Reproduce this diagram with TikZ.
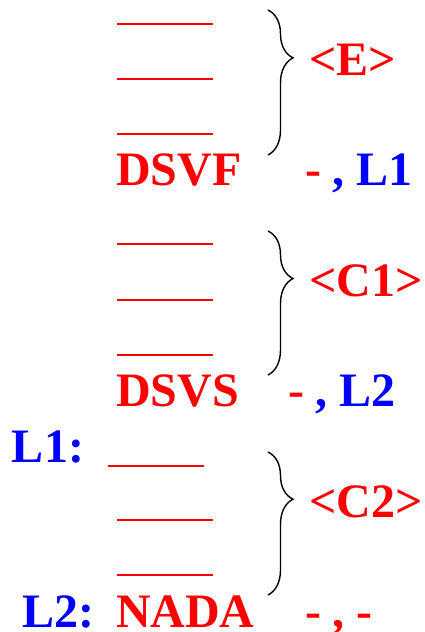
\documentclass[tikz,border=0pt]{standalone}
\usepackage{fontspec}
\setmainfont{Liberation Serif}
\usetikzlibrary{decorations.pathreplacing}
\begin{document}
\begin{tikzpicture}[x=1pt,y=-1pt,
  txt/.style={inner sep=0pt, outer sep=0pt, anchor=base west, font=\fontsize{48}{58}\selectfont\bfseries},
  rtxt/.style={txt, text=red},
  btxt/.style={txt, text=blue},
  blank/.style={red, line width=2.6pt},
  curly/.style={decorate, decoration={brace, amplitude=25pt, aspect=0.33}, line width=1.4pt}]
\useasboundingbox (0,0) rectangle (425,632);
% block 1
\draw[blank] (117,24) -- (213,24);
\draw[blank] (117,79) -- (213,79);
\draw[blank] (117,134) -- (213,134);
\node[rtxt] (dsvf) at (116,185) {DSVF};
\coordinate (b1t) at (268,10);
\coordinate (b1b) at (268,155);
\draw[curly] (b1t) -- (b1b);
\node[rtxt] (e) at (309,75) {<E>};
\node[txt] (r1) at (305,185) {\textcolor{red}{-} \textcolor{blue}{, L1}};
% block 2
\draw[blank] (117,244) -- (213,244);
\draw[blank] (117,300) -- (213,300);
\draw[blank] (117,355) -- (213,355);
\node[rtxt] (dsvs) at (116,406) {DSVS};
\coordinate (b2t) at (268,231);
\coordinate (b2b) at (268,375);
\draw[curly] (b2t) -- (b2b);
\node[rtxt] (c1) at (309,296) {<C1>};
\node[txt] (r2) at (288,406) {\textcolor{red}{-} \textcolor{blue}{, L2}};
% block 3
\node[btxt] (l1) at (12,462) {L1:};
\draw[blank] (108,466) -- (204,466);
\draw[blank] (117,520) -- (213,520);
\draw[blank] (117,575) -- (213,575);
\node[btxt] (l2) at (22,627) {L2:};
\node[rtxt] (nada) at (116,627) {NADA};
\coordinate (b3t) at (268,452);
\coordinate (b3b) at (268,595);
\draw[curly] (b3t) -- (b3b);
\node[rtxt] (c2) at (309,517) {<C2>};
\node[txt] (r3) at (305,627) {\textcolor{red}{-} \textcolor{red}{, -}};
\end{tikzpicture}
\end{document}
